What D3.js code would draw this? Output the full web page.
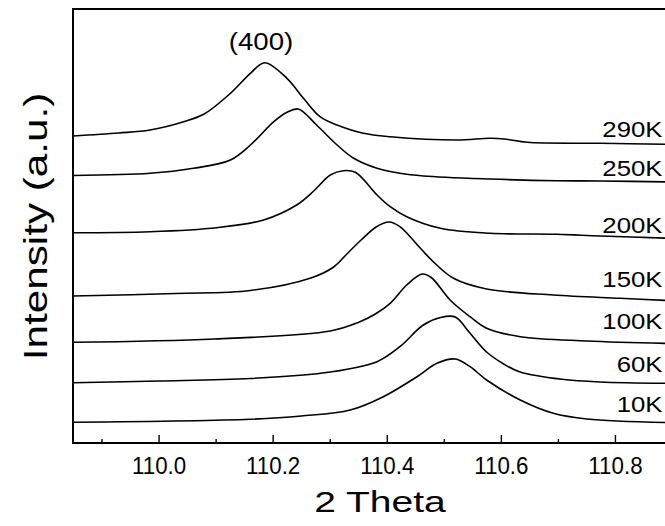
<!DOCTYPE html>
<html lang="en">
<head>
<meta charset="UTF-8">
<title>(400) peak vs temperature</title>
<script src="https://cdnjs.cloudflare.com/ajax/libs/d3/7.8.5/d3.min.js"></script>
<style>
    body, html { margin: 0; padding: 0; background: #fff; overflow: hidden; }
    svg { display: block; font-family: "Liberation Sans", Arial, sans-serif; }
</style>
</head>
<body>
<div id="chart"></div>
<script>
    // temperatures, top curve first
    const temps = ["290K", "250K", "200K", "150K", "100K", "60K", "10K"];

    // [2 theta, intensity (a.u., curves already offset)]
    const s290 = [[109.85,306],[109.93,309],[109.985,312],[110.044,320.3],[110.079,327.7],[110.126,348.7],[110.161,368.7],[110.186,379.3],[110.225,363.7],[110.254,343.7],[110.283,325.3],[110.313,317],[110.359,308.7],[110.406,305.3],[110.523,302],[110.581,303.7],[110.61,302.7],[110.646,299.7],[110.774,298.7],[110.9,297.7]];
    const s250 = [[109.85,266.5],[109.985,268.7],[110.061,273.7],[110.126,282],[110.161,297],[110.202,320.3],[110.225,329.7],[110.245,333],[110.277,317],[110.313,297],[110.342,283.7],[110.383,273.7],[110.423,268.7],[110.464,266],[110.581,263],[110.698,261.3],[110.774,261],[110.9,260]];
    const s200 = [[109.85,209.3],[109.985,210.3],[110.102,214.3],[110.184,222],[110.242,237],[110.272,251],[110.301,267],[110.324,271.3],[110.345,269.7],[110.383,247],[110.406,235.3],[110.435,225.3],[110.494,213.7],[110.581,208.7],[110.698,207.7],[110.774,206],[110.9,203.7]];
    const s150 = [[109.85,146],[110.03,148.5],[110.161,151.5],[110.267,164],[110.307,175],[110.33,188],[110.355,202],[110.382,215.3],[110.404,220],[110.423,215.3],[110.459,193.7],[110.482,180],[110.517,163.7],[110.575,153],[110.692,147],[110.809,143.7],[110.9,141.3]];
    const s100 = [[109.85,99.7],[110.098,103],[110.301,111],[110.35,119.5],[110.38,128],[110.406,138.7],[110.435,157],[110.462,168],[110.478,164.5],[110.511,142],[110.546,125.3],[110.575,113.7],[110.634,105.3],[110.751,101],[110.9,98.5]];
    const s60 = [[109.85,59.3],[110.0,61],[110.161,63.5],[110.301,70],[110.383,80.3],[110.423,95.3],[110.464,117],[110.494,124.5],[110.52,125],[110.546,108.7],[110.575,90],[110.605,78],[110.634,70],[110.707,62.7],[110.774,60],[110.9,58.7]];
    const s10 = [[109.85,19.7],[110.161,22.7],[110.25,26],[110.336,32],[110.394,45.3],[110.453,65.3],[110.488,78.7],[110.52,83],[110.546,75.3],[110.575,62],[110.634,42],[110.692,28.7],[110.751,23],[110.9,19.3]];
    const series = [s290, s250, s200, s150, s100, s60, s10];

    // intensity level of each temperature label baseline
    const labelLevels = [305.3, 266, 209, 154.7, 113, 70.3, 30.3];

    const majorTicks = [110.0, 110.2, 110.4, 110.6, 110.8];
    const minorTicks = [109.9, 110.1, 110.3, 110.5, 110.7];

    const width = 665, height = 526;
    const plotLeft = 73, plotTop = 9, plotBottom = 443;

    const x = d3.scaleLinear().domain([109.85, 110.9]).range([plotLeft, 672]);
    const y = d3.scaleLinear().domain([0, 434]).range([442, 8]);

    const svg = d3.select("#chart").append("svg")
        .attr("width", width)
        .attr("height", height);

    // stretch a text to a given factor of its natural width
    function stretch(sel, f) {
        sel.each(function() {
            const w = this.getComputedTextLength();
            d3.select(this).attr("textLength", w * f).attr("lengthAdjust", "spacingAndGlyphs");
        });
    }

    // frame: top, left and bottom edges, right side runs off the picture
    const frame = svg.append("g").attr("stroke", "#000").attr("stroke-width", 2);
    frame.append("line").attr("x1", plotLeft).attr("x2", width + 5).attr("y1", plotTop).attr("y2", plotTop);
    frame.append("line").attr("x1", plotLeft).attr("x2", plotLeft).attr("y1", plotTop - 1).attr("y2", plotBottom + 1);
    frame.append("line").attr("x1", plotLeft - 1).attr("x2", width + 5).attr("y1", plotBottom).attr("y2", plotBottom);

    const xAxis = svg.append("g")
        .attr("transform", `translate(0,${plotBottom})`)
        .call(d3.axisBottom(x).tickValues(majorTicks).tickSize(-8).tickPadding(14).tickFormat(d3.format(".1f")));
    xAxis.select(".domain").remove();
    xAxis.selectAll(".tick line").attr("stroke-width", 1.4);
    xAxis.selectAll("text")
        .attr("fill", "#000")
        .style("font-size", "24px")
        .style("font-family", "'Liberation Sans', Arial, sans-serif")
        .call(stretch, 0.93);

    const xMinor = svg.append("g")
        .attr("transform", `translate(0,${plotBottom})`)
        .call(d3.axisBottom(x).tickValues(minorTicks).tickSize(-4).tickFormat(""));
    xMinor.select(".domain").remove();
    xMinor.selectAll(".tick line").attr("stroke-width", 1.4);

    const line = d3.line()
        .x(d => x(d[0]))
        .y(d => y(d[1]))
        .curve(d3.curveCatmullRom.alpha(0.5));

    svg.append("g")
        .selectAll("path")
        .data(series)
        .join("path")
        .attr("d", line)
        .attr("fill", "none")
        .attr("stroke", "#000")
        .attr("stroke-width", 1.6);

    svg.append("g")
        .selectAll("text")
        .data(temps)
        .join("text")
        .attr("x", 662.5)
        .attr("y", (d, i) => y(labelLevels[i]))
        .attr("text-anchor", "end")
        .style("font-size", "22px")
        .text(d => d)
        .call(stretch, 1.17);

    svg.append("text")
        .attr("x", 261)
        .attr("y", 50)
        .attr("text-anchor", "middle")
        .style("font-size", "23px")
        .text("(400)")
        .call(stretch, 1.2);

    svg.append("text")
        .attr("x", 380)
        .attr("y", 511.5)
        .attr("text-anchor", "middle")
        .style("font-size", "30px")
        .text("2 Theta")
        .call(stretch, 1.3);

    svg.append("text")
        .attr("transform", "translate(46.5,226.5) rotate(-90)")
        .attr("text-anchor", "middle")
        .style("font-size", "33px")
        .text("Intensity (a.u.)")
        .call(stretch, 1.28);
</script>
</body>
</html>
